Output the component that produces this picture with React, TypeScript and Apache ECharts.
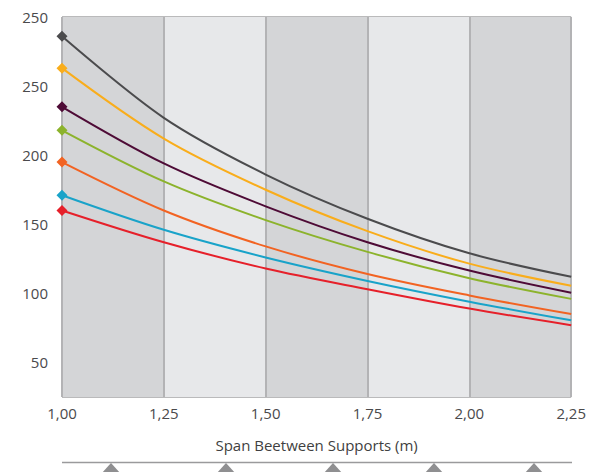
import React, { useEffect, useRef } from "react";
import * as echarts from "echarts";

// Span between supports (m)
const spans = [1.0, 1.25, 1.5, 1.75, 2.0, 2.25];

// Series values (top to bottom)
const grayValues = [286, 227, 186, 154, 129, 112];
const yellowValues = [263, 212, 175, 145, 121.5, 105.5];
const purpleValues = [235, 194, 163, 137, 116.5, 100.5];
const greenValues = [218, 181, 153, 130, 111, 96];
const orangeValues = [195, 160, 134, 114, 98.5, 85];
const blueValues = [171, 146, 126, 109, 94, 80.5];
const redValues = [160, 137, 118, 103, 89, 77];

const seriesColors = ["#4b4b4d", "#f9ad1b", "#4e0b36", "#8cb32c", "#f26322", "#19a3c9", "#e6202a"];
const seriesValues = [grayValues, yellowValues, purpleValues, greenValues, orangeValues, blueValues, redValues];

// Y tick labels as printed in the reference (top one reads 250)
const yTickLabels: Record<number, string> = {
  50: "50",
  100: "100",
  150: "150",
  200: "200",
  250: "250",
  300: "250",
};

const xAxisName = "Span Beetween Supports (m)";

// Legend-strip triangle positions (x in pixel space of the bottom strip)
const triangleXs = [111, 226, 333, 434, 534];

export default function App() {
  const ref = useRef<HTMLDivElement>(null);

  useEffect(() => {
    if (!ref.current) return;
    const chart = echarts.init(ref.current, undefined, { renderer: "svg" });
    const font = "'Open Sans', 'DejaVu Sans', sans-serif";

    const series = seriesValues.map((vals, i) => ({
      type: "line",
      data: vals.map((v, j) => [spans[j], v]),
      smooth: 0.33,
      symbol: "diamond",
      symbolSize: (_v: any, p: any) => (p.dataIndex === 0 ? 11 : 0),
      showSymbol: true,
      showAllSymbol: true,
      clip: false,
      lineStyle: { color: seriesColors[i], width: 2 },
      itemStyle: { color: seriesColors[i] },
      z: 10 - i,
    }));

    const graphics: any[] = [
      {
        type: "line",
        shape: { x1: 62, y1: 462.5, x2: 572, y2: 462.5 },
        style: { stroke: "#9a9a9c", lineWidth: 1.5 },
      },
      ...triangleXs.map((x) => ({
        type: "polygon",
        shape: { points: [[x, 463], [x - 10, 474], [x + 10, 474]] },
        style: { fill: "#8f8f91" },
      })),
    ];

    chart.setOption({
      animation: false,
      grid: { left: 62, right: 17, top: 17, bottom: 75, containLabel: false },
      xAxis: {
        type: "value",
        min: 1,
        max: 2.25,
        interval: 0.25,
        name: xAxisName,
        nameLocation: "middle",
        nameGap: 40,
        nameTextStyle: { color: "#3f3f41", fontSize: 15, fontFamily: font },
        axisLine: { show: false },
        axisTick: { show: false },
        axisLabel: {
          color: "#4a4a4c",
          fontSize: 15,
          fontFamily: font,
          margin: 8,
          formatter: (v: number) => v.toFixed(2).replace(".", ","),
        },
        splitLine: { show: true, lineStyle: { color: "#b3b3b5", width: 2 } },
        splitArea: { show: true, areaStyle: { color: ["#d4d5d7", "#e7e8ea"] } },
      },
      yAxis: {
        type: "value",
        min: 25,
        max: 300,
        interval: 25,
        axisLine: { show: false },
        axisTick: { show: false },
        axisLabel: {
          color: "#4a4a4c",
          fontSize: 15,
          fontFamily: font,
          margin: 14,
          formatter: (v: number) => yTickLabels[v] ?? "",
        },
        splitLine: { show: true, lineStyle: { color: "#a3a3a5", width: 1.5 } },
      },
      series,
      graphic: graphics,
    });

    return () => chart.dispose();
  }, []);

  return <div ref={ref} style={{ width: 589, height: 472, position: "absolute", left: 0, top: 0 }} />;
}
